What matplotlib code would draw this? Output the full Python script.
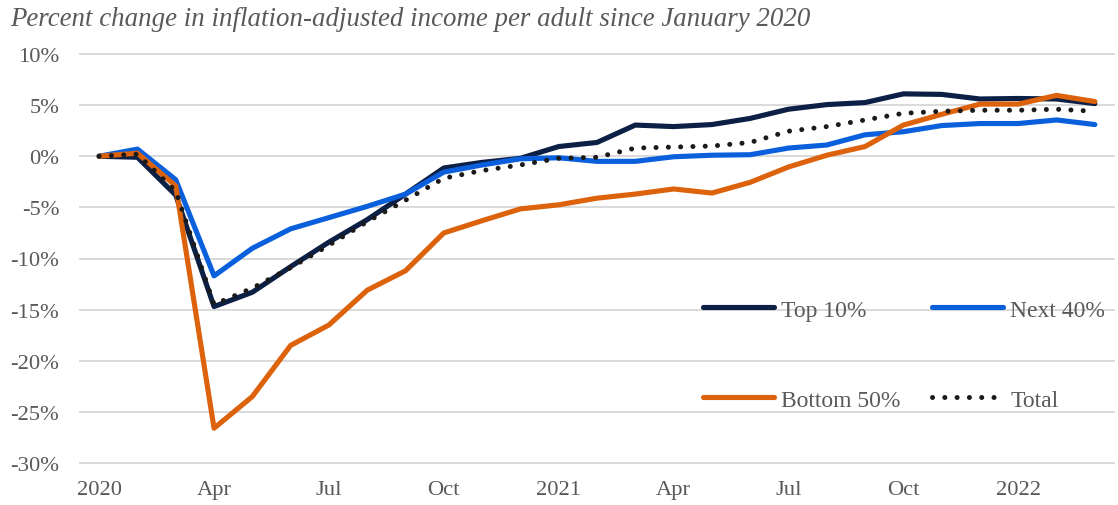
import matplotlib
matplotlib.use("Agg")
import matplotlib.pyplot as plt
from matplotlib.ticker import FixedLocator

# ---- data ----
months = list(range(27))  # Jan 2020 .. Mar 2022
tick_positions = [0, 3, 6, 9, 12, 15, 18, 21, 24]
tick_labels = ['2020', 'Apr', 'Jul', 'Oct', '2021', 'Apr', 'Jul', 'Oct', '2022']

top10 = [0, -0.1, -3.8, -14.7, -13.3, -10.8, -8.4, -6.2, -3.7, -1.15, -0.6, -0.2,
         0.95, 1.35, 3.05, 2.9, 3.1, 3.7, 4.6, 5.05, 5.25, 6.1, 6.05, 5.6,
         5.65, 5.6, 5.15]
next40 = [0, 0.7, -2.3, -11.7, -9.0, -7.1, -6.0, -4.9, -3.7, -1.55, -0.85, -0.25,
          -0.15, -0.5, -0.5, -0.05, 0.1, 0.15, 0.8, 1.1, 2.1, 2.4, 3.0, 3.2,
          3.2, 3.55, 3.1]
bottom50 = [0, 0.3, -2.9, -26.6, -23.5, -18.5, -16.5, -13.1, -11.2, -7.5, -6.3, -5.15,
            -4.75, -4.1, -3.7, -3.2, -3.6, -2.55, -1.05, 0.1, 0.95, 3.05, 4.1, 5.1,
            5.1, 5.95, 5.35]
total = [0, 0.2, -3.4, -14.5, -12.9, -10.9, -8.7, -6.4, -4.3, -2.15, -1.4, -0.85,
         -0.2, -0.1, 0.8, 0.9, 1.0, 1.35, 2.45, 2.9, 3.55, 4.2, 4.4, 4.5,
         4.5, 4.6, 4.4]

series_labels = ['Top 10%', 'Next 40%', 'Bottom 50%', 'Total']
y_ticks = [10, 5, 0, -5, -10, -15, -20, -25, -30]
title = 'Percent change in inflation-adjusted income per adult since January 2020'

# ---- style ----
plt.rcParams['font.family'] = ['Liberation Serif', 'DejaVu Serif']
TXT = '#595959'
C_TOP = '#0c1f45'
C_NEXT = '#0a5fdc'
C_BOT = '#dc620c'
C_TOT = '#1a1a1a'
FS = 16.2

fig = plt.figure(figsize=(11.18, 5.06), dpi=100)
ax = fig.add_axes([80 / 1118, 1 - 464 / 506, 1034 / 1118, (464 - 55) / 506])

lw = 3.7
h_top, = ax.plot(months, top10, color=C_TOP, lw=lw, solid_capstyle='round', solid_joinstyle='round', label=series_labels[0], zorder=3)
h_next, = ax.plot(months, next40, color=C_NEXT, lw=lw, solid_capstyle='round', solid_joinstyle='round', label=series_labels[1], zorder=3)
h_bot, = ax.plot(months, bottom50, color=C_BOT, lw=lw, solid_capstyle='round', solid_joinstyle='round', label=series_labels[2], zorder=3)
h_tot, = ax.plot(months, total, color=C_TOT, lw=3.6, linestyle=(0, (0.01, 2.45)), dash_capstyle='round', label=series_labels[3], zorder=4)

ax.set_xlim(-0.5, 26.5)
ax.set_ylim(-30, 10)
ax.yaxis.set_major_locator(FixedLocator(y_ticks))
ax.set_yticklabels([f'{v}%' for v in y_ticks])
ax.set_xticks(tick_positions)
ax.set_xticklabels(tick_labels)
ax.grid(axis='y', color='#d9d9d9', lw=1.4, zorder=0)
ax.grid(axis='x', visible=False)
for s in ax.spines.values():
    s.set_visible(False)
ax.tick_params(axis='both', length=0, labelsize=FS, labelcolor=TXT)
ax.tick_params(axis='y', pad=15)
ax.tick_params(axis='x', pad=12)
for gl in ax.get_ygridlines():
    gl.set_clip_on(False)

fig.text(10 / 1118, 1 - 19 / 506, title, fontsize=19.4, style='italic', color=TXT,
         ha='left', va='center')

# legend: column-major fill -> order so rows read (Top 10%, Next 40%), (Bottom 50%, Total)
leg = ax.legend([h_top, h_bot, h_next, h_tot],
                [series_labels[0], series_labels[2], series_labels[1], series_labels[3]],
                ncol=2, frameon=False, loc='upper left',
                bbox_to_anchor=(703 / 1118, 1 - 300 / 506), bbox_transform=fig.transFigure,
                borderpad=0, borderaxespad=0, fontsize=17, labelcolor=TXT,
                handlelength=3.0, handletextpad=0.3, columnspacing=1.35,
                labelspacing=2.9)

fig.savefig('out.png', dpi=100)
